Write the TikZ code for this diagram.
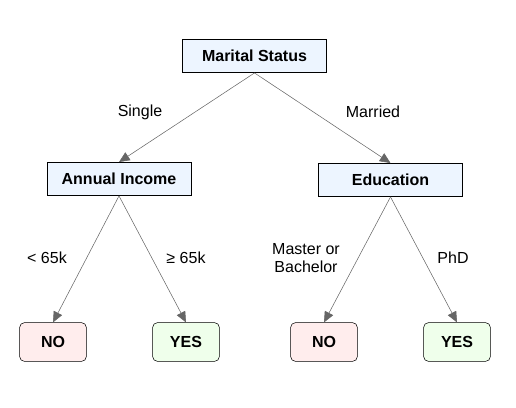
\documentclass[tikz,border=0pt]{standalone}
\usepackage{fontspec}
\setmainfont{Liberation Sans}
\usetikzlibrary{arrows.meta}
\definecolor{attrfill}{HTML}{EDF5FF}
\definecolor{nofill}{HTML}{FFEDED}
\definecolor{yesfill}{HTML}{EFFFEB}
\definecolor{edgegray}{HTML}{666666}
\tikzset{
  attribute/.style={
    draw,
    fill = attrfill,
    font = \bfseries\fontsize{12}{14}\selectfont,
    minimum width = 108pt,
    minimum height = 25pt
  },
  leaf/.style={
    draw,
    rounded corners = 3.5pt,
    font = \bfseries\fontsize{12}{14}\selectfont,
    minimum width = 50pt,
    minimum height = 29pt
  },
  branch/.style={
    draw = edgegray,
    -{Triangle[length=8pt,width=7pt]}
  },
  every picture/.style = {
    font=\fontsize{12}{14}\selectfont
  }
}
\begin{document}
\begin{tikzpicture}[x=0.75pt,y=-0.75pt]
  \useasboundingbox (0,0) rectangle (516,407);
  % attribute nodes
  \node[attribute] (marital) at (254.5,56) {Marital Status};
  \node[attribute] (income) at (119,179) {Annual Income};
  \node[attribute] (edu) at (390.5,180) {Education};
  % leaves
  \node[leaf,fill=nofill] (no1) at (53,342) {NO};
  \node[leaf,fill=yesfill] (yes1) at (186,342) {YES};
  \node[leaf,fill=nofill] (no2) at (324,342) {NO};
  \node[leaf,fill=yesfill] (yes2) at (457,342) {YES};
  % branches
  \draw[branch] (marital.south) -- (income.north);
  \draw[branch] (marital.south) -- (edu.north);
  \draw[branch] (income.south) -- (no1.north);
  \draw[branch] (income.south) -- (yes1.north);
  \draw[branch] (edu.south) -- (no2.north);
  \draw[branch] (edu.south) -- (yes2.north);
  % branch labels
  \node (single) at (140,112) {Single};
  \node (married) at (373,112) {Married};
  \node (low) at (47,258) {< 65k};
  \node (high) at (186,258) {≥ 65k};
  \node[align=center] (master) at (306,258) {Master or\\Bachelor};
  \node (phd) at (453,258) {PhD};
\end{tikzpicture}
\end{document}
